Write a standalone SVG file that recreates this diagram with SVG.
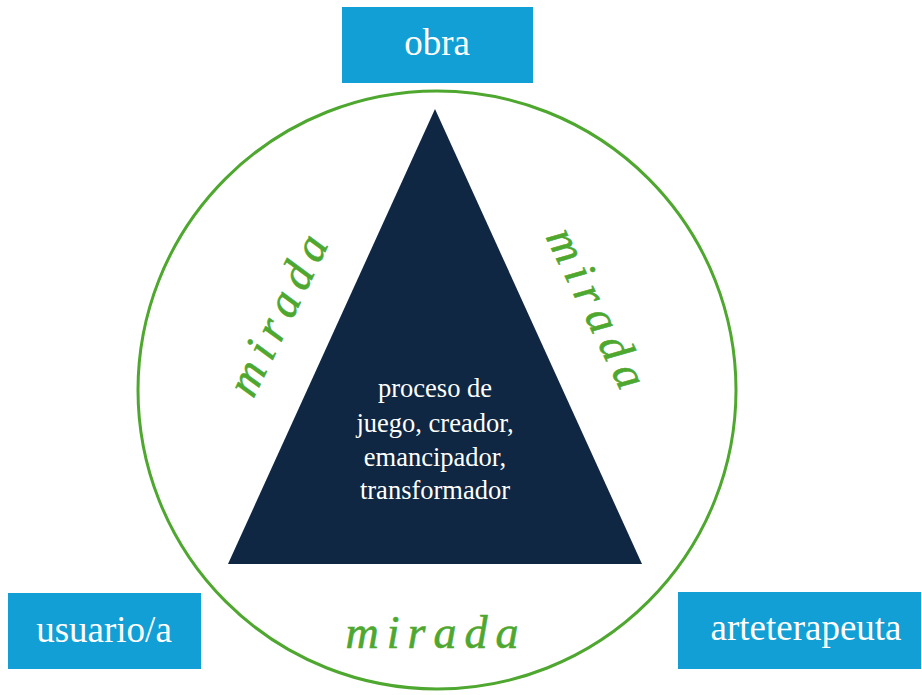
<svg xmlns="http://www.w3.org/2000/svg" width="922" height="695" viewBox="0 0 922 695">
<style>
.box{fill:#119fd6;}
.lbl{font-family:"Liberation Serif",serif;font-size:37px;fill:#ffffff;text-anchor:middle;}
.mid{font-family:"Liberation Serif",serif;font-size:26.5px;fill:#ffffff;text-anchor:middle;}
.mir{font-family:"Liberation Serif",serif;font-style:italic;font-size:46px;fill:#4ea72e;stroke:#4ea72e;stroke-width:0.6;text-anchor:middle;letter-spacing:8px;}
</style>
<rect width="922" height="695" fill="#ffffff"/>
<g id="connectors">
<circle cx="437" cy="390" r="299" fill="none" stroke="#4ea72e" stroke-width="3"/>
</g>
<g id="triangle">
<polygon points="435,109 228,564 642,564" fill="#0f2742"/>
<text class="mid" x="435" y="397">proceso de</text>
<text class="mid" x="435" y="432">juego, creador,</text>
<text class="mid" x="435" y="466">emancipador,</text>
<text class="mid" x="435" y="499">transformador</text>
</g>
<g id="obra">
<rect class="box" x="342" y="7" width="191" height="76"/>
<text class="lbl" x="437" y="55">obra</text>
</g>
<g id="usuario">
<rect class="box" x="8" y="593" width="193" height="76"/>
<text class="lbl" x="104" y="642">usuario/a</text>
</g>
<g id="arteterapeuta">
<rect class="box" x="678" y="592" width="243" height="77"/>
<text class="lbl" x="806" y="640">arteterapeuta</text>
</g>
<g id="mirada-labels">
<text class="mir" transform="translate(293,318) rotate(-64)">mirada</text>
<text class="mir" transform="translate(585,318) rotate(64)">mirada</text>
<text class="mir" x="436" y="648">mirada</text>
</g>
</svg>
